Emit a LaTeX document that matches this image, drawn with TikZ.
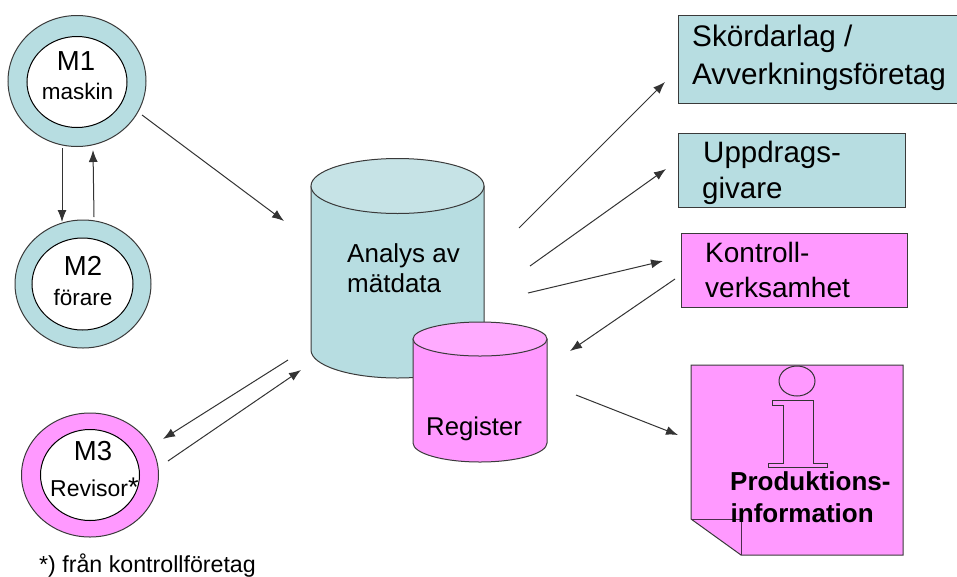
\documentclass[tikz,border=0pt]{standalone}
\usepackage{fontspec}
\setmainfont{Liberation Sans}
\usetikzlibrary{shapes.geometric,arrows.meta}
\definecolor{tealfill}{HTML}{B7DDE1}
\definecolor{tealtop}{HTML}{C6E3E6}
\definecolor{pinkfill}{HTML}{FF99FF}
\definecolor{pinktop}{HTML}{FFABFF}
\definecolor{edgegray}{HTML}{3A3A3A}
\newcommand{\fsz}[1]{\fontsize{#1}{#1}\selectfont}
\tikzset{
  outerring/.style={ellipse,draw=edgegray,line width=1pt,inner sep=0pt},
  innerring/.style={ellipse,draw=black,fill=white,line width=1pt,inner sep=0pt},
  lab/.style={anchor=base west,inner sep=0pt,text=black},
  clab/.style={anchor=base,inner sep=0pt,text=black},
  box/.style={draw=edgegray,line width=1pt},
  flow/.style={-{Latex[length=12pt,width=9pt]},draw=black!80,line width=1pt}
}
\begin{document}
\begin{tikzpicture}[x=1pt,y=-1pt]
  \useasboundingbox (0,0) rectangle (957,576);
  % rings on the left
  \node[outerring,fill=tealfill,minimum width=138pt,minimum height=131pt] (m1out) at (77,81) {};
  \node[innerring,minimum width=100pt,minimum height=91pt] (m1in) at (77,82) {};
  \node[outerring,fill=tealfill,minimum width=136pt,minimum height=128pt] (m2out) at (83,284) {};
  \node[innerring,minimum width=101pt,minimum height=92pt] (m2in) at (82.5,284) {};
  \node[outerring,fill=pinkfill,minimum width=137pt,minimum height=124pt] (m3out) at (90,475) {};
  \node[innerring,minimum width=99pt,minimum height=91pt] (m3in) at (90,475) {};
  \node[clab,font=\fsz{27.5}] (m1a) at (76,70) {M1};
  \node[clab,font=\fsz{22.5}] (m1b) at (77.5,99) {maskin};
  \node[clab,font=\fsz{27.5}] (m2a) at (83,275) {M2};
  \node[clab,font=\fsz{22.5}] (m2b) at (83,305) {förare};
  \node[clab,font=\fsz{27.5}] (m3a) at (93,460) {M3};
  \node[lab,font=\fsz{23}] (m3b) at (50,496) {Revisor};
  \node[lab,font=\fsz{27}] (m3c) at (128,496) {*};
  \node[lab,font=\fsz{23.2}] (note) at (39,572) {*) från kontrollföretag};
  % the two cylinders
  \draw[box,fill=tealfill] (311,186) -- (311,350) arc[start angle=180,end angle=360,x radius=86.5,y radius=-28] -- (484,186) -- cycle;
  \draw[box,fill=tealtop] (397.5,186) ellipse[x radius=86.5,y radius=27.5];
  \draw[box,fill=pinkfill] (413,339) -- (413,443) arc[start angle=180,end angle=360,x radius=67,y radius=-19] -- (547,339) -- cycle;
  \draw[box,fill=pinktop] (480,339) ellipse[x radius=67,y radius=17];
  \node[lab,font=\fsz{26}] (ana) at (347,262) {Analys av};
  \node[lab,font=\fsz{26}] (mat) at (347,292) {mätdata};
  \node[lab,font=\fsz{25.7}] (reg) at (426,435) {Register};
  % boxes on the right
  \draw[box,fill=tealfill] (678,15) rectangle (957,103);
  \draw[box,fill=tealfill] (678,133) rectangle (905,207);
  \draw[box,fill=pinkfill] (681,233) rectangle (907,307);
  \node[lab,font=\fsz{29.7}] (sko) at (692,46) {Skördarlag /};
  \node[lab,font=\fsz{29.7}] (avv) at (692,84) {Avverkningsföretag};
  \node[lab,font=\fsz{29.5}] (upp) at (703,162) {Uppdrags-};
  \node[lab,font=\fsz{29.5}] (giv) at (702,198) {givare};
  \node[lab,font=\fsz{28}] (kon) at (705,262) {Kontroll-};
  \node[lab,font=\fsz{28}] (ver) at (705,297) {verksamhet};
  % note sheet with the i
  \draw[box,fill=pinkfill] (691,365) -- (903,365) -- (903,555) -- (741,555) -- (691,519) -- cycle;
  \draw[box,draw=black!70!pinkfill] (691,519) -- (741,519) -- (741,555);
  \draw[box,draw=black!80] (797,381) ellipse[x radius=18,y radius=15];
  \draw[box,draw=black!80] (772,400) -- (813,400) -- (813,463) -- (827,463) -- (827,467) -- (768,467) -- (768,463) -- (783,463) -- (783,405) -- (772,405) -- cycle;
  \node[lab,font=\bfseries\fsz{26}] (pro) at (730,490) {Produktions-};
  \node[lab,font=\bfseries\fsz{26}] (inf) at (730.5,522) {information};
  % free ends of the arrows
  \coordinate (a1) at (142,115); \coordinate (a2) at (284,221);
  \coordinate (b1) at (62,148);  \coordinate (b2) at (62,222);
  \coordinate (c1) at (94,217);  \coordinate (c2) at (93,150);
  \coordinate (d1) at (288,360); \coordinate (d2) at (163,439);
  \coordinate (e1) at (168,461); \coordinate (e2) at (301,370);
  \coordinate (f1) at (519,228); \coordinate (f2) at (665,82);
  \coordinate (g1) at (530,266); \coordinate (g2) at (666,169);
  \coordinate (h1) at (528,293); \coordinate (h2) at (663,261);
  \coordinate (k1) at (675,279); \coordinate (k2) at (570,351);
  \coordinate (l1) at (576,395); \coordinate (l2) at (678,435);
  \foreach \p in {a,b,c,d,e,f,g,h,k,l}
    \draw[flow] (\p1) -- (\p2);
\end{tikzpicture}
\end{document}
